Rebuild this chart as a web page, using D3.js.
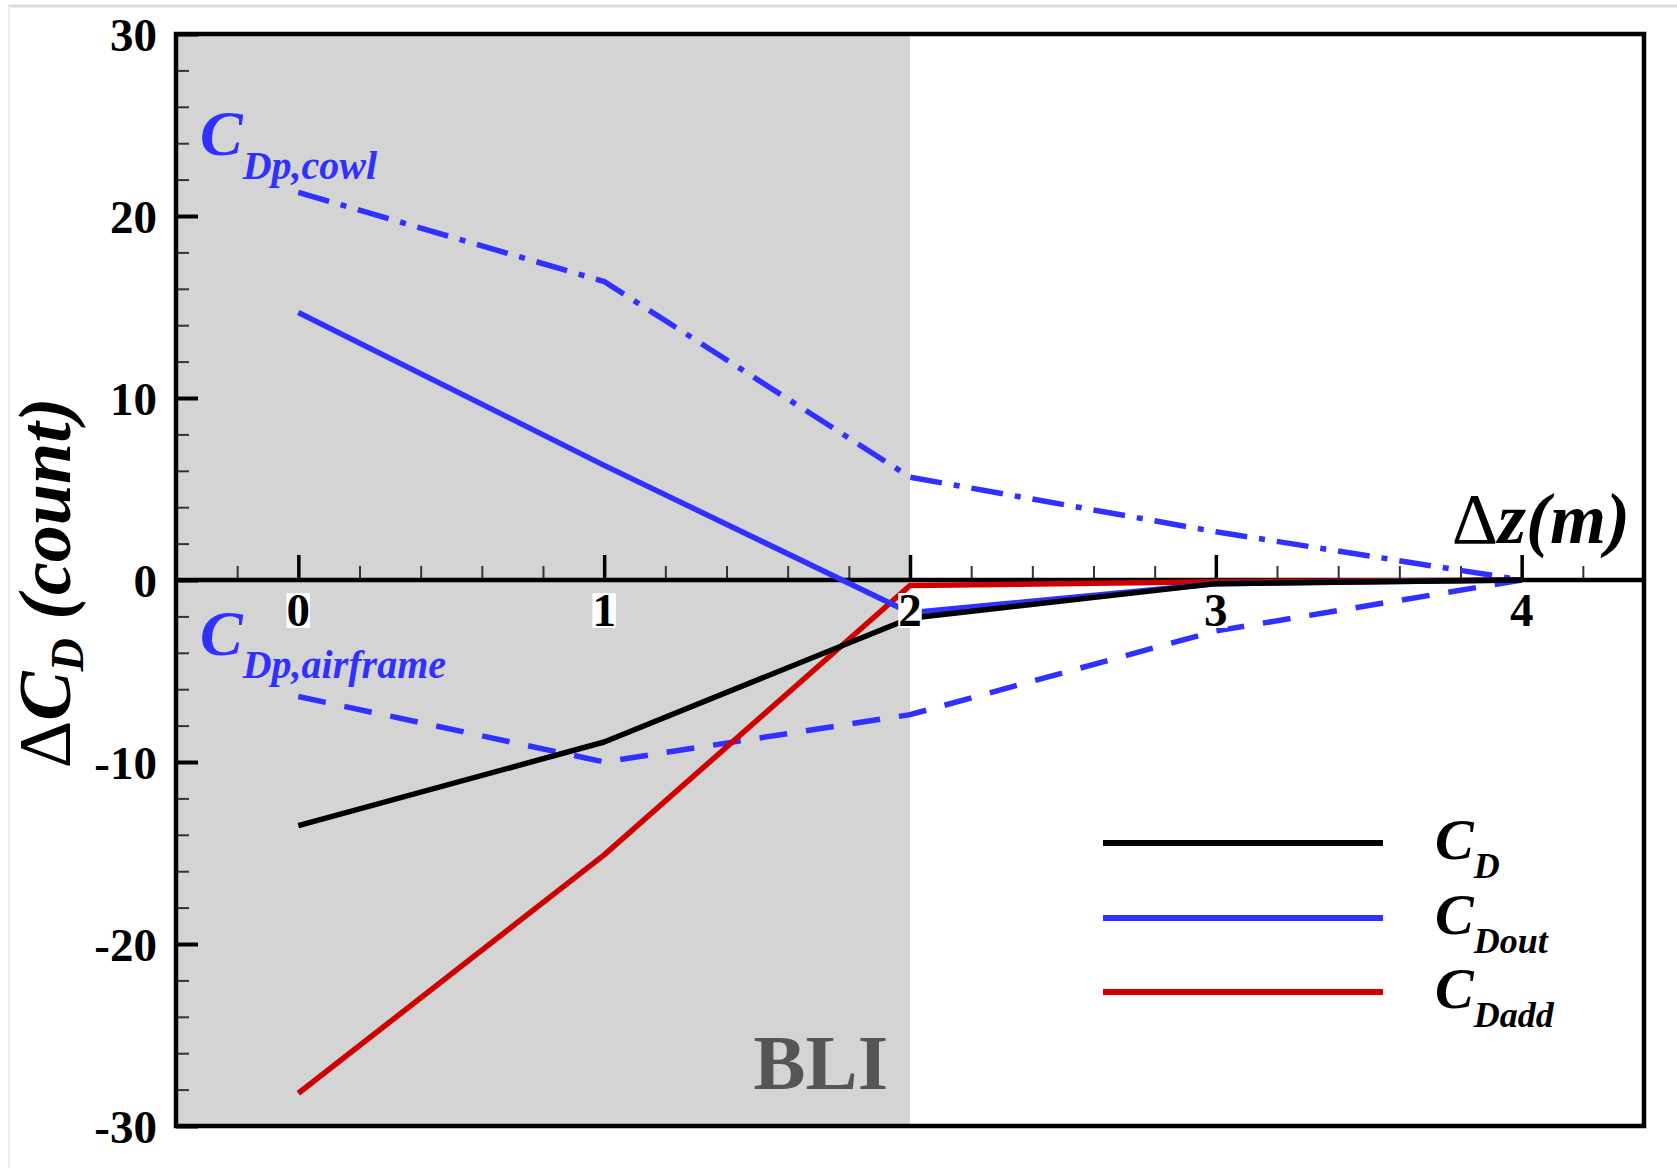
<!DOCTYPE html>
<html>
<head>
<meta charset="utf-8">
<script src="https://cdn.jsdelivr.net/npm/d3@7"></script>
<style>
  html, body { margin: 0; padding: 0; background: #fff; }
  svg { display: block; }
  text { font-family: "Liberation Serif", "Times New Roman", serif; }
</style>
</head>
<body>
<svg id="chart" width="1677" height="1168"></svg>
<script>
// ---------- data ----------
const dz = [0, 1, 2, 3, 4];
const CD = [-13.5, -8.9, -2.1, -0.2, 0];
const CDout = [14.7, 6.3, -1.8, -0.2, 0];
const CDadd = [-28.2, -15.1, -0.3, -0.1, 0];
const CDpCowl = [21.3, 16.4, 5.65, 2.65, 0];
const CDpAirframe = [-6.4, -10.0, -7.4, -2.8, 0];
const xTicks = [0, 1, 2, 3, 4];
const yTicks = [-30, -20, -10, 0, 10, 20, 30];
const bliRange = [-0.4, 2];
const legendItems = [
  { main: "C", sub: "D", color: "#000000", data: CD },
  { main: "C", sub: "Dout", color: "#3030ff", data: CDout },
  { main: "C", sub: "Dadd", color: "#d00000", data: CDadd }
];

// ---------- layout ----------
const L = 176, R = 1644, T = 34, B = 1126;
const svg = d3.select("#chart");
const fmt = d => String(d);   // plain hyphen-minus as in the reference

// faint image border
svg.append("line").attr("x1", 8).attr("x2", 1677).attr("y1", 6).attr("y2", 6)
  .attr("stroke", "#dcdcdc").attr("stroke-width", 3);
svg.append("line").attr("x1", 9).attr("x2", 9).attr("y1", 6).attr("y2", 1168)
  .attr("stroke", "#eeeeee").attr("stroke-width", 2);

const x = d3.scaleLinear().domain([-0.4, 4.4]).range([L, R]);
const y = d3.scaleLinear().domain([-30, 30]).range([B, T]);

// BLI shading
svg.append("rect")
  .attr("x", x(bliRange[0])).attr("y", T)
  .attr("width", x(bliRange[1]) - x(bliRange[0])).attr("height", B - T)
  .attr("fill", "#d4d4d4");

svg.append("text")
  .attr("x", x(bliRange[1]) - 22).attr("y", 1089)
  .attr("text-anchor", "end")
  .attr("font-size", 78).attr("font-weight", "bold")
  .attr("fill", "#555555")
  .text("BLI");

// ---------- y axis ----------
const yMinor = d3.range(-30, 30.01, 2).filter(v => v % 10 !== 0);
svg.append("g").attr("transform", `translate(${L},0)`)
  .call(d3.axisLeft(y).tickValues(yMinor).tickSizeInner(-13).tickSizeOuter(0).tickFormat(""))
  .call(g => g.select(".domain").remove())
  .call(g => g.selectAll("line").attr("stroke", "#333").attr("stroke-width", 2));

const yAxis = svg.append("g").attr("transform", `translate(${L},0)`)
  .call(d3.axisLeft(y).tickValues(yTicks).tickSizeInner(-22).tickSizeOuter(0).tickPadding(19).tickFormat(fmt))
  .call(g => g.select(".domain").remove());
yAxis.selectAll("line").attr("stroke", "#000").attr("stroke-width", 4);
yAxis.selectAll("text")
  .attr("font-family", "'Liberation Serif', 'Times New Roman', serif")
  .attr("font-size", 47).attr("font-weight", "bold").attr("fill", "#000")
  .attr("dy", "0.36em");

// ---------- frame ----------
svg.append("rect").attr("x", L).attr("y", T).attr("width", R - L).attr("height", B - T)
  .attr("fill", "none").attr("stroke", "#000").attr("stroke-width", 4.5);

// ---------- x axis at y = 0 ----------
const xMinor = d3.range(-0.2, 4.21, 0.2).map(v => Math.round(v * 10) / 10).filter(v => Math.abs(v - Math.round(v)) > 1e-6);
svg.append("g").attr("transform", `translate(0,${y(0)})`)
  .call(d3.axisBottom(x).tickValues(xMinor).tickSizeInner(-14).tickSizeOuter(0).tickFormat(""))
  .call(g => g.select(".domain").remove())
  .call(g => g.selectAll("line").attr("stroke", "#333").attr("stroke-width", 2));

const xAxisG = svg.append("g").attr("transform", `translate(0,${y(0)})`)
  .call(d3.axisBottom(x).tickValues(xTicks).tickSizeInner(-25).tickSizeOuter(0).tickPadding(13).tickFormat(fmt))
  .call(g => g.select(".domain").remove());
xAxisG.selectAll("line").attr("stroke", "#000").attr("stroke-width", 3.5);
xAxisG.selectAll("text").remove();

svg.append("line").attr("x1", L).attr("x2", R).attr("y1", y(0)).attr("y2", y(0))
  .attr("stroke", "#000").attr("stroke-width", 4.5);

// ---------- data lines ----------
const lineGen = d3.line().x((d, i) => x(dz[i])).y(d => y(d));

svg.append("path").datum(CDpCowl).attr("d", lineGen)
  .attr("fill", "none").attr("stroke", "#3030ff").attr("stroke-width", 5.5)
  .attr("stroke-dasharray", "32,12,6,12");
svg.append("path").datum(CDpAirframe).attr("d", lineGen)
  .attr("fill", "none").attr("stroke", "#3030ff").attr("stroke-width", 5.5)
  .attr("stroke-dasharray", "28,19");

legendItems.slice().reverse().forEach(s => {
  svg.append("path").datum(s.data).attr("d", lineGen)
    .attr("fill", "none").attr("stroke", s.color).attr("stroke-width", 5.5)
    .attr("stroke-linejoin", "round");
});

// ---------- x tick labels with white boxes ----------
const xl = svg.append("g");
xTicks.forEach(t => {
  const txt = xl.append("text")
    .attr("x", x(t)).attr("y", 626)
    .attr("text-anchor", "middle")
    .attr("font-size", 47).attr("font-weight", "bold").attr("fill", "#000")
    .text(fmt(t));
  const bb = txt.node().getBBox();
  xl.insert("rect", () => txt.node())
    .attr("x", bb.x).attr("y", 593)
    .attr("width", bb.width).attr("height", 35)
    .attr("fill", "#fff");
});

// ---------- axis titles ----------
const yt = svg.append("text")
  .attr("transform", "translate(70,583) rotate(-90)")
  .attr("text-anchor", "middle")
  .attr("font-size", 74).attr("font-weight", "bold").attr("fill", "#000");
yt.append("tspan").attr("font-weight", "normal").text("\u0394");
yt.append("tspan").attr("font-style", "italic").text("C");
yt.append("tspan").attr("font-style", "italic").attr("font-size", 46).attr("dy", 13).text("D");
yt.append("tspan").attr("font-style", "italic").attr("dy", -13).text("\u00a0(count)");

const xt = svg.append("text")
  .attr("x", 1630).attr("y", 543)
  .attr("text-anchor", "end")
  .attr("font-size", 72).attr("font-weight", "bold").attr("fill", "#000");
xt.append("tspan").attr("font-weight", "normal").text("\u0394");
xt.append("tspan").attr("font-style", "italic").text("z(m)");

// ---------- annotations ----------
function subLabel(xp, yp, main, sub, fsMain, fsSub, shift, color) {
  const t = svg.append("text").attr("x", xp).attr("y", yp)
    .attr("font-weight", "bold").attr("font-style", "italic").attr("fill", color);
  t.append("tspan").attr("font-size", fsMain).text(main);
  t.append("tspan").attr("font-size", fsSub).attr("dy", shift).text(sub);
  return t;
}
subLabel(200, 155, "C", "Dp,cowl", 64, 40, 24, "#3030ff");
subLabel(200, 655, "C", "Dp,airframe", 64, 40, 23, "#3030ff");

// ---------- legend ----------
const legY = [843, 918, 992];
legendItems.forEach((s, i) => {
  svg.append("line")
    .attr("x1", 1103).attr("x2", 1383).attr("y1", legY[i]).attr("y2", legY[i])
    .attr("stroke", s.color).attr("stroke-width", 6);
  subLabel(1435, legY[i] + 16, s.main, s.sub, 58, 36, 19, "#000");
});
</script>
</body>
</html>
